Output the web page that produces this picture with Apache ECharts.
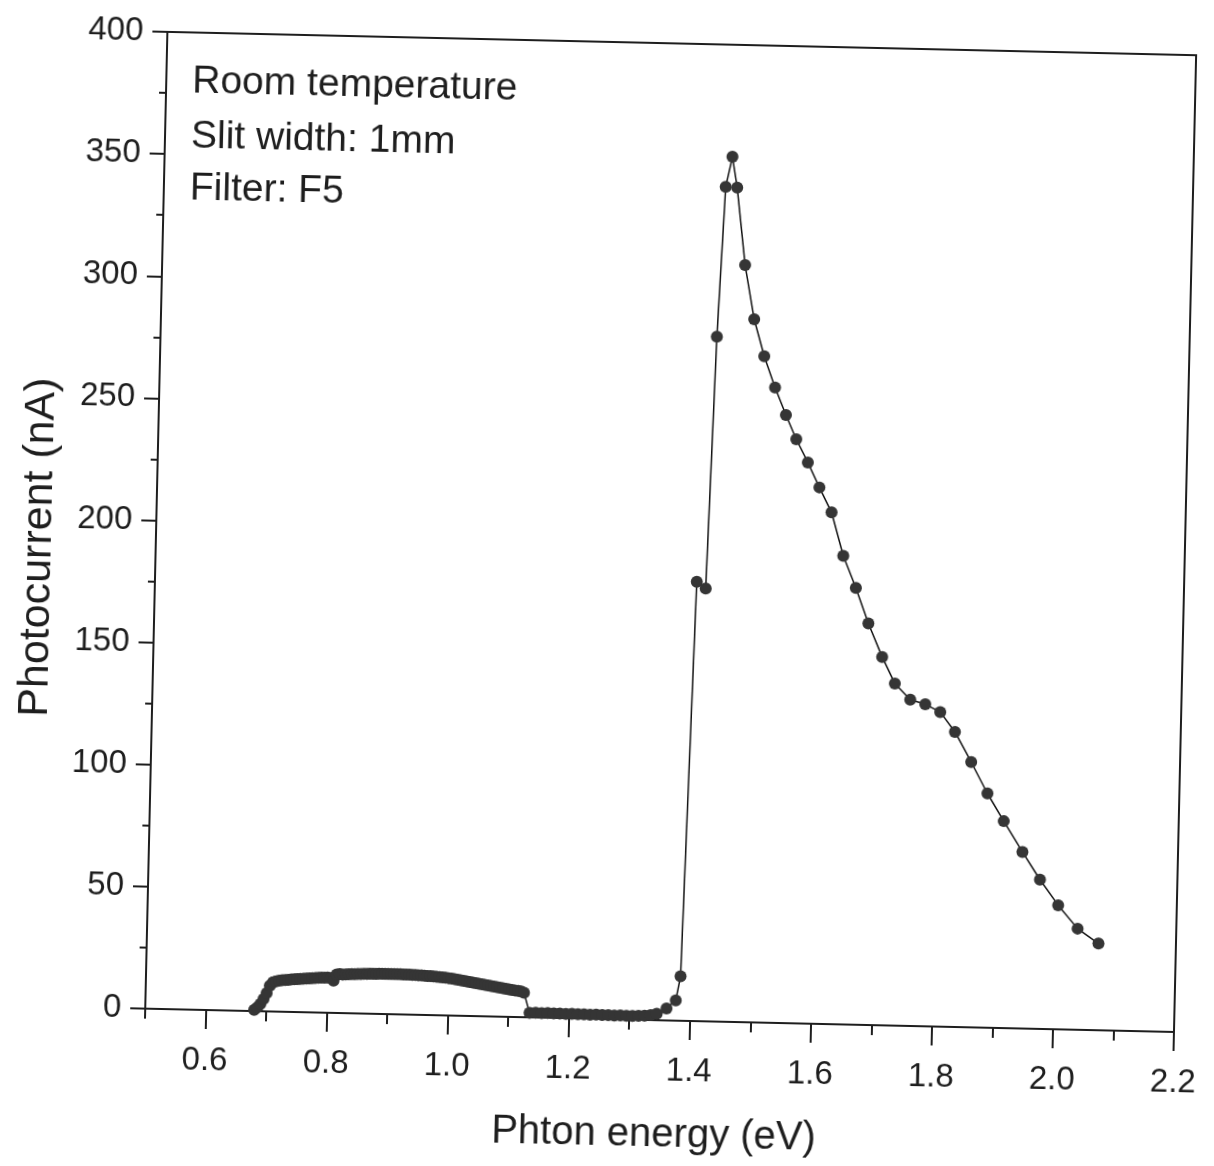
<!DOCTYPE html>
<html>
<head>
<meta charset="utf-8">
<script src="https://cdn.jsdelivr.net/npm/echarts@6/dist/echarts.min.js"></script>
<style>
html,body{margin:0;padding:0;background:#fff;overflow:hidden;width:1214px;height:1166px;}
#chart{position:absolute;left:0;top:0;width:1214px;height:1166px;background:#fff;transform:rotate(1.3deg);transform-origin:50% 50%;}
</style>
</head>
<body>
<div id="chart"></div>
<script>
// Low-energy hump (step 0.005 eV)
const energyHump = [0.680,0.685,0.690,0.695,0.700,0.705,0.710,0.715,0.720,0.725,0.730,0.735,0.740,0.745,0.750,0.755,0.760,0.765,0.770,0.775,0.780,0.785,0.790,0.795,0.800,0.805,0.810,0.815,0.820,0.825,0.830,0.835,0.840,0.845,0.850,0.855,0.860,0.865,0.870,0.875,0.880,0.885,0.890,0.895,0.900,0.905,0.910,0.915,0.920,0.925,0.930,0.935,0.940,0.945,0.950,0.955,0.960,0.965,0.970,0.975,0.980,0.985,0.990,0.995,1.000,1.005,1.010,1.015,1.020,1.025,1.030,1.035,1.040,1.045,1.050,1.055,1.060,1.065,1.070,1.075,1.080,1.085,1.090,1.095,1.100,1.105,1.110,1.115,1.120,1.125];
const currentHump = [0.5,1.5,3.0,5.0,7.5,10.5,12.0,12.4,12.7,12.9,13.0,13.1,13.3,13.4,13.5,13.6,13.7,13.8,13.9,14.0,14.1,14.2,14.3,14.3,14.4,14.2,13.2,15.8,16.0,15.8,15.9,16.0,16.1,16.1,16.2,16.2,16.3,16.3,16.4,16.4,16.4,16.5,16.5,16.5,16.5,16.5,16.5,16.5,16.5,16.4,16.4,16.4,16.3,16.3,16.2,16.2,16.1,16.0,16.0,15.9,15.8,15.7,15.6,15.5,15.3,15.1,14.9,14.7,14.5,14.3,14.1,13.9,13.7,13.5,13.3,13.1,12.9,12.7,12.5,12.3,12.1,11.9,11.7,11.5,11.3,11.1,10.9,10.7,10.5,10.0];
// Flat region below the gap
const energyFlat = [1.135,1.145,1.155,1.165,1.175,1.185,1.195,1.205,1.215,1.225,1.235,1.245,1.255,1.265,1.275,1.285,1.295,1.305,1.315,1.325,1.335,1.345];
const currentFlat = [1.8,1.9,1.8,1.9,1.8,1.8,1.7,1.8,1.7,1.7,1.6,1.7,1.6,1.6,1.5,1.6,1.5,1.5,1.6,1.7,2.0,2.7];
// Main photoresponse peak
const energyPeak = [1.361,1.376,1.383,1.395,1.410,1.419,1.428,1.438,1.447,1.463,1.480,1.498,1.517,1.536,1.554,1.574,1.594,1.615,1.636,1.658,1.680,1.704,1.726,1.752,1.777,1.802,1.827,1.855,1.883,1.911,1.943,1.973,2.004,2.037,2.072];
const currentPeak = [4.9,8.3,18.2,179.8,177.2,280.3,341.8,354.1,341.6,309.9,287.8,272.8,260.1,248.9,239.1,229.7,219.6,209.5,191.8,178.8,164.4,150.8,140.0,133.6,131.8,128.8,120.8,108.6,95.9,84.7,72.3,61.1,50.8,41.4,35.5];

const xMajorTicks = [0.6,0.8,1.0,1.2,1.4,1.6,1.8,2.0,2.2];
const xMinorTicks = [0.5,0.7,0.9,1.1,1.3,1.5,1.7,1.9,2.1];
const annotations = ['Room temperature','Slit width: 1mm','Filter: F5'];
const xTitle = 'Phton energy (eV)';
const yTitle = 'Photocurrent (nA)';

const pts = [];
energyHump.forEach((e,i)=>pts.push([e,currentHump[i]]));
energyFlat.forEach((e,i)=>pts.push([e,currentFlat[i]]));
energyPeak.forEach((e,i)=>pts.push([e,currentPeak[i]]));

const FONT = "'Liberation Sans', Arial, sans-serif";
const INK = '#1e1e1e';
const G = {left:155, top:42, width:1029, height:977};

const chart = echarts.init(document.getElementById('chart'), null, {renderer:'canvas'});
chart.setOption({
  backgroundColor:'#fff',
  animation:false,
  grid:{left:G.left, top:G.top, width:G.width, height:G.height, show:true, borderColor:INK, borderWidth:2, backgroundColor:'transparent'},
  xAxis:[{
    type:'value', min:0.5, max:2.2, position:'bottom',
    axisLine:{show:true, onZero:false, lineStyle:{color:INK, width:2}},
    axisTick:{show:true, inside:false, length:19, customValues:xMajorTicks, lineStyle:{color:INK, width:2}},
    axisLabel:{show:true, customValues:xMajorTicks, margin:34, fontSize:33, fontFamily:FONT, color:INK, formatter:v=>Number(v).toFixed(1)},
    splitLine:{show:false}
  },{
    type:'value', min:0.5, max:2.2, position:'bottom', offset:0,
    axisLine:{show:false, onZero:false},
    axisTick:{show:true, inside:false, length:10, customValues:xMinorTicks, lineStyle:{color:INK, width:2}},
    axisLabel:{show:false},
    splitLine:{show:false}
  }],
  yAxis:{
    type:'value', min:0, max:400, interval:50,
    axisLine:{show:true, onZero:false, lineStyle:{color:INK, width:2}},
    axisTick:{show:true, inside:false, length:15, lineStyle:{color:INK, width:2}},
    minorTick:{show:true, splitNumber:2, length:7, lineStyle:{color:INK, width:2}},
    axisLabel:{margin:24, fontSize:33, fontFamily:FONT, color:INK},
    splitLine:{show:false}
  },
  graphic:[
    {type:'text', x:38, y:560, rotation:Math.PI/2, style:{text:yTitle, font:'43px '+FONT, fill:INK, textAlign:'center', textVerticalAlign:'middle'}},
    {type:'text', x:666, y:1134, style:{text:xTitle, font:'40px '+FONT, fill:INK, textAlign:'center', textVerticalAlign:'middle'}},
    {type:'text', x:181, y:91, style:{text:annotations[0], font:'39px '+FONT, fill:INK, textAlign:'left', textVerticalAlign:'middle'}},
    {type:'text', x:181, y:146, style:{text:annotations[1], font:'39px '+FONT, fill:INK, textAlign:'left', textVerticalAlign:'middle'}},
    {type:'text', x:181, y:198, style:{text:annotations[2], font:'39px '+FONT, fill:INK, textAlign:'left', textVerticalAlign:'middle'}}
  ],
  series:[{
    type:'line', xAxisIndex:0, data:pts,
    symbol:'circle', symbolSize:12, showAllSymbol:true,
    lineStyle:{color:'#111', width:1.5},
    itemStyle:{color:'#353535', borderWidth:0},
    emphasis:{disabled:true},
    z:3
  }]
});
</script>
</body>
</html>
